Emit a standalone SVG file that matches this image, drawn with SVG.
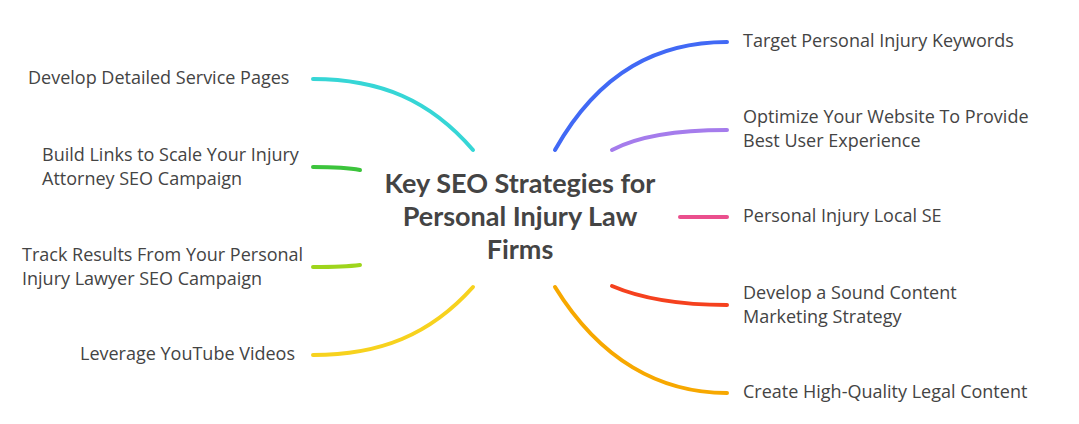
<svg xmlns="http://www.w3.org/2000/svg" width="1079" height="424" viewBox="0 0 1079 424">
<style>
.c{fill:none;stroke-width:4;stroke-linecap:round}
.t{font-family:"Open Sans","Liberation Sans",sans-serif;font-size:18px;fill:#444;dominant-baseline:middle}
.h{font-family:"Lato","Liberation Sans",sans-serif;font-size:27px;font-weight:bold;fill:#444;text-anchor:middle;dominant-baseline:middle}
</style>
<rect width="1079" height="424" fill="#fff"/>
<g id="connectors">
<path class="c" stroke="#4169f5" d="M555,150 C600,70 660,42 727,42"/>
<path class="c" stroke="#a57cec" d="M612,150 C640,135 680,130 727,130"/>
<path class="c" stroke="#ea4f8d" d="M680,217 L727,217"/>
<path class="c" stroke="#f5411e" d="M612,286 C640,298 680,305 727,305"/>
<path class="c" stroke="#f7a800" d="M555,287 C600,360 660,393 727,393"/>
<path class="c" stroke="#36d6d6" d="M473,150 C430,100 380,79 313,79"/>
<path class="c" stroke="#3cc43c" d="M360,170 C345,167 330,167 313,167"/>
<path class="c" stroke="#9ed51c" d="M360,265 C345,267 330,267 313,267"/>
<path class="c" stroke="#f7d21e" d="M473,287 C430,335 380,355 313,355"/>
</g>
<g id="center"><text class="h" x="520" y="186">Key SEO Strategies for</text><text class="h" x="520" y="219">Personal Injury Law</text><text class="h" x="520" y="252">Firms</text></g>
<g id="n1"><text class="t" x="743" y="42">Target Personal Injury Keywords</text></g>
<g id="n2"><text class="t" x="743" y="118">Optimize Your Website To Provide</text><text class="t" x="743" y="142">Best User Experience</text></g>
<g id="n3"><text class="t" x="743" y="217">Personal Injury Local SE</text></g>
<g id="n4"><text class="t" x="743" y="294">Develop a Sound Content</text><text class="t" x="743" y="318">Marketing Strategy</text></g>
<g id="n5"><text class="t" x="743" y="393">Create High-Quality Legal Content</text></g>
<g id="n6"><text class="t" x="28" y="79">Develop Detailed Service Pages</text></g>
<g id="n7"><text class="t" x="42" y="156">Build Links to Scale Your Injury</text><text class="t" x="42" y="180">Attorney SEO Campaign</text></g>
<g id="n8"><text class="t" x="22" y="256">Track Results From Your Personal</text><text class="t" x="22" y="280">Injury Lawyer SEO Campaign</text></g>
<g id="n9"><text class="t" x="80" y="355">Leverage YouTube Videos</text></g>
</svg>
